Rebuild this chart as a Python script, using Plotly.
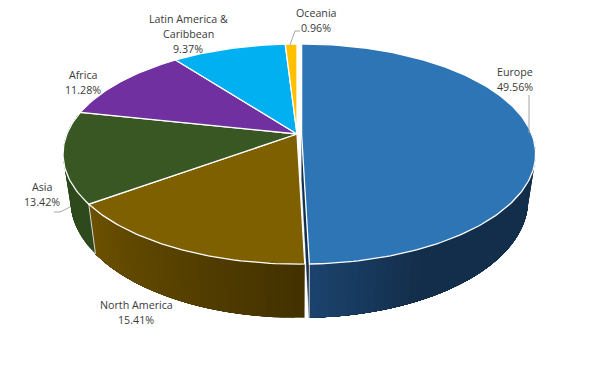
import math
import plotly.graph_objects as go

regions = ["Europe", "North America", "Asia", "Africa", "Latin America & Caribbean", "Oceania"]
shares = [49.56, 15.41, 13.42, 11.28, 9.37, 0.96]
label_lines = [["Europe"], ["North America"], ["Asia"], ["Africa"], ["Latin America &", "Caribbean"], ["Oceania"]]
label_xy = [(515, 79.5), (136, 312.5), (42, 194.5), (83, 82), (188, 34), (316, 20.5)]
top_colors = ["#2E75B6", "#7F6000", "#385723", "#7030A0", "#00B0F0", "#FFC000"]
side_from = [(0x1C, 0x44, 0x6F), (0x6C, 0x51, 0x00), (0x2C, 0x48, 0x1C), (0x5F, 0x29, 0x88), (0, 0x95, 0xCC), (0xD9, 0xA3, 0)]
side_to = [(0x13, 0x2E, 0x4B), (0x42, 0x31, 0x00), (0x2E, 0x4A, 0x1D), (0x5F, 0x29, 0x88), (0, 0x95, 0xCC), (0xD9, 0xA3, 0)]

# perspective pie geometry
CX, CY = 297.0, 134.0
K = 0.1818
A, B = 230.1, 106.4
BASE_SX, BASE_SY, BASE_CY = 0.968, 1.067, 179.0
EXPLODE = [4.6, 0, 0, 0, 0, 0]
LINE_STEP = 15.0


def project(ang, r=1.0, base=False, dx=0.0):
    X, Y = r * math.sin(ang), r * math.cos(ang)
    w = 1 + K * Y
    if base:
        return CX + dx + BASE_SX * A * X / w, BASE_CY - BASE_SY * B * Y / w
    return CX + dx + A * X / w, CY - B * Y / w


def poly(fig, pts, color, line_color=None, width=0.0):
    xs = [p[0] for p in pts] + [pts[0][0]]
    ys = [p[1] for p in pts] + [pts[0][1]]
    fig.add_trace(go.Scatter(x=xs, y=ys, mode="lines", fill="toself", fillcolor=color,
                             line=dict(color=line_color or color, width=width),
                             hoverinfo="skip", showlegend=False))


fig = go.Figure()
total = sum(shares)
spans = []
acc = 0.0
for s in shares:
    spans.append((acc / total * 2 * math.pi, (acc + s) / total * 2 * math.pi))
    acc += s

# outer side walls: overlapping bands, painted from one end so no seam shows
for i, (a0, a1) in enumerate(spans):
    if i > 2:
        continue
    lo = math.radians(80) if i == 0 else a0
    hi = min(a1, math.radians(285))
    n = max(2, int(math.degrees(hi - lo) / 2.0))
    for j in range(n):
        u0 = lo + (hi - lo) * j / n
        u1 = hi  # each band reaches the far end, the next one paints over it
        if i == 0:
            t = min(1.0, (a1 - u0) / math.radians(25))
        else:
            t = 1 - (j + 0.5) / n
        c = tuple(round(side_from[i][q] + (side_to[i][q] - side_from[i][q]) * t) for q in range(3))
        col = "rgb(%d,%d,%d)" % c
        m = 24
        top = [project(u0 + (u1 - u0) * q / m, dx=EXPLODE[i]) for q in range(m + 1)]
        bot = [project(u0 + (u1 - u0) * q / m, base=True, dx=EXPLODE[i]) for q in range(m, -1, -1)]
        poly(fig, top + bot, col)

# exposed cut face of the pulled-out slice
a_end = spans[0][1]
poly(fig, [project(a_end, 0, dx=EXPLODE[0]), project(a_end, dx=EXPLODE[0]),
           project(a_end, base=True, dx=EXPLODE[0]), project(a_end, 0, base=True, dx=EXPLODE[0])],
     "#12304F", "#12304F", 0.3)

# wall separators
for ang, d in [(spans[1][1], 0.0), (spans[0][1], EXPLODE[0])]:
    p0, p1 = project(ang, dx=d), project(ang, base=True, dx=d)
    fig.add_trace(go.Scatter(x=[p0[0], p1[0]], y=[p0[1], p1[1]], mode="lines",
                             line=dict(color="#D8D8D8", width=1), hoverinfo="skip", showlegend=False))

# top faces
for i, (a0, a1) in enumerate(spans):
    n = max(4, int(math.degrees(a1 - a0)))
    pts = [project(a0, 0, dx=EXPLODE[i])]
    pts += [project(a0 + (a1 - a0) * j / n, dx=EXPLODE[i]) for j in range(n + 1)]
    poly(fig, pts, top_colors[i], "#FFFFFF", 1.3)

# leader lines
leaders = [[(290, 45), (295, 31), (300, 31)], [(529, 95), (529, 133)], [(70, 207), (60, 212), (54, 212)]]
for seg in leaders:
    fig.add_trace(go.Scatter(x=[p[0] for p in seg], y=[p[1] for p in seg], mode="lines",
                             line=dict(color="#A6A6A6", width=1), hoverinfo="skip", showlegend=False))

# labels
for i, lines in enumerate(label_lines):
    rows = lines + ["%.2f%%" % shares[i]]
    for r, row in enumerate(rows):
        fig.add_annotation(x=label_xy[i][0], y=label_xy[i][1] + (r - (len(rows) - 1) / 2) * LINE_STEP,
                           text=row, showarrow=False, xref="x", yref="y", align="center",
                           font=dict(family="Open Sans", size=10.7, color="#3A3A3A"))

fig.update_layout(width=593, height=367, margin=dict(l=0, r=0, t=0, b=0),
                  paper_bgcolor="white", plot_bgcolor="white", showlegend=False,
                  xaxis=dict(range=[0, 593], visible=False, fixedrange=True),
                  yaxis=dict(range=[367, 0], visible=False, fixedrange=True))
fig.write_html("out.html", config={"displayModeBar": False},
               post_script="document.body.style.margin='0';")
